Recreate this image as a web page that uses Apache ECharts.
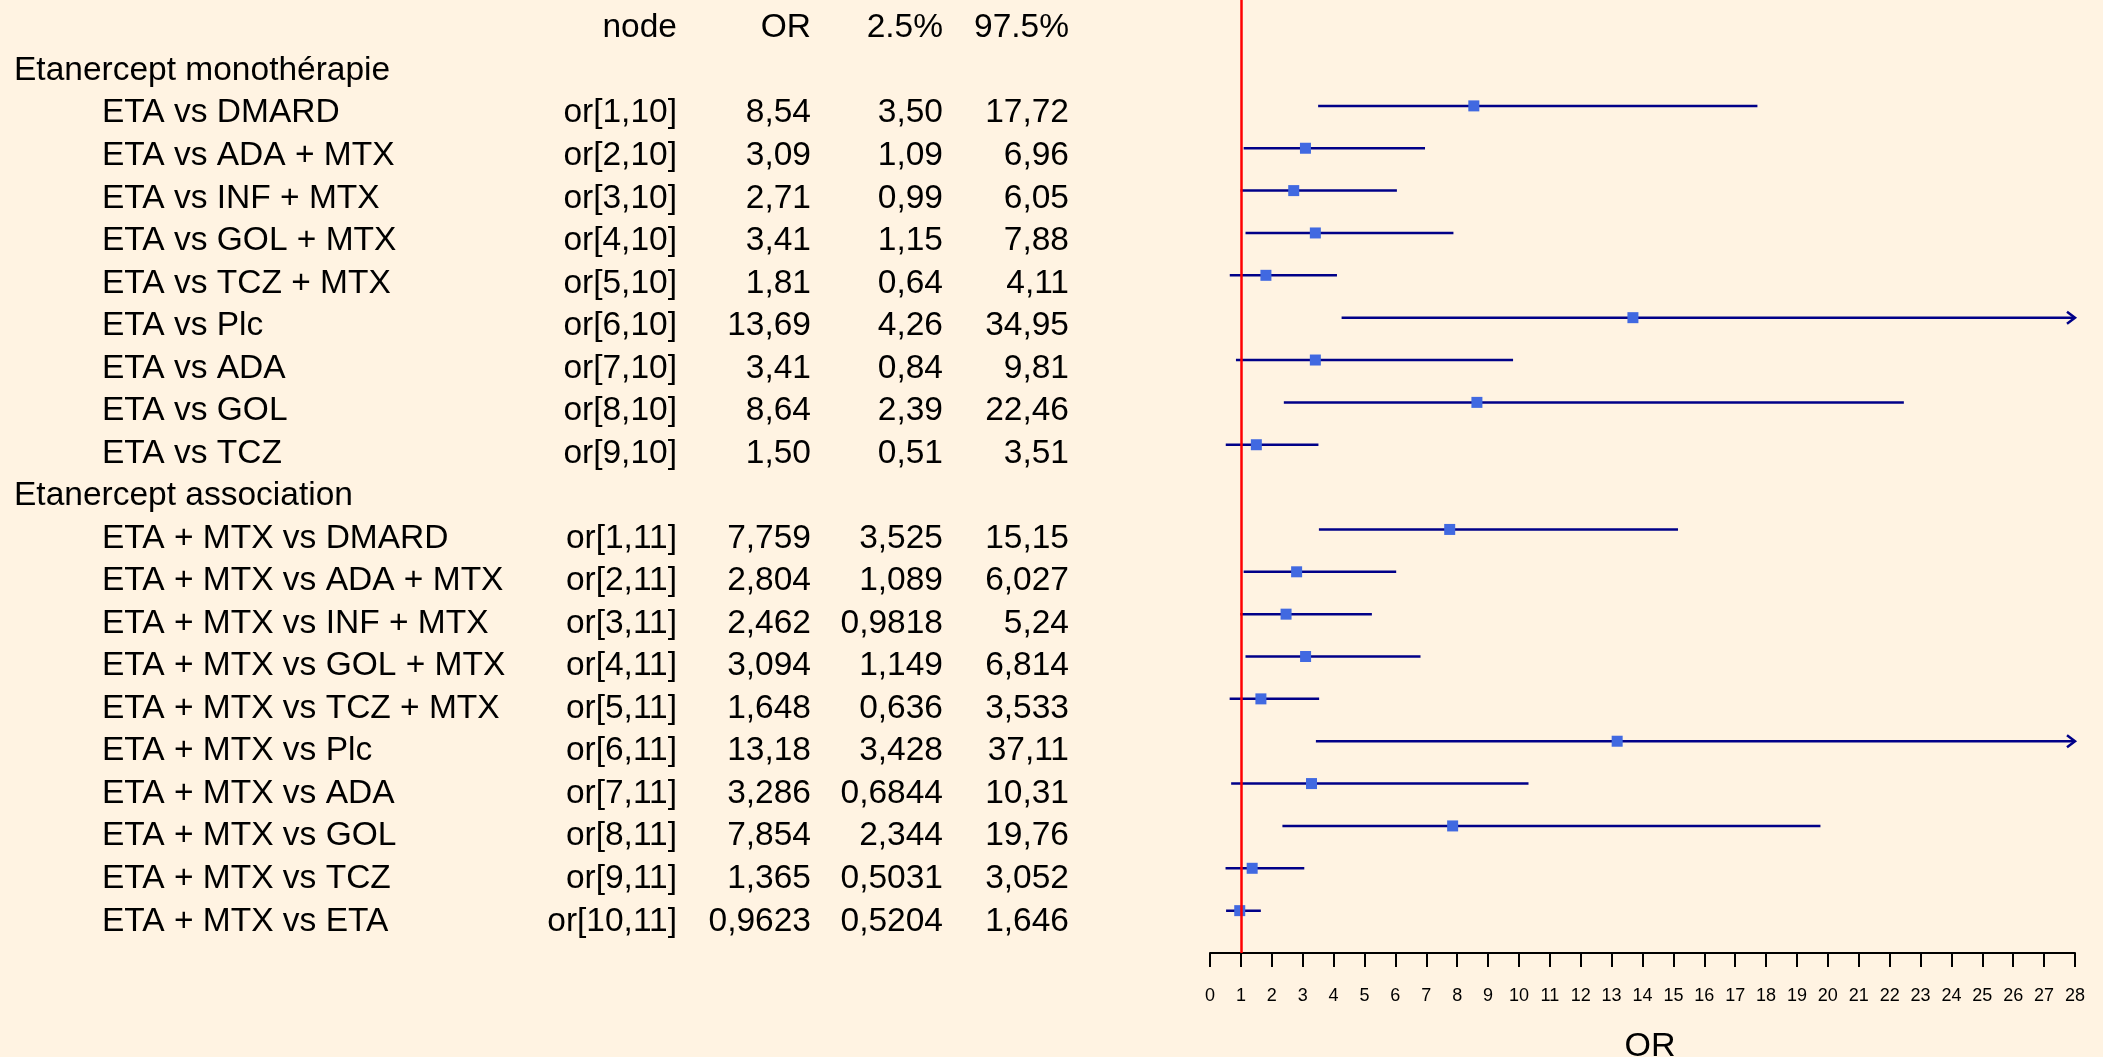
<!DOCTYPE html>
<html>
<head>
<meta charset="utf-8">
<script src="https://cdn.jsdelivr.net/npm/echarts@6/dist/echarts.min.js"></script>
<style>
  html, body { margin: 0; padding: 0; background: #FFF3E2; }
  #chart { width: 2103px; height: 1057px; }
</style>
</head>
<body>
<div id="chart"></div>
<script>
// Column headings of the table
const headers = ['node', 'OR', '2.5%', '97.5%'];
const groupTitles = ['Etanercept monothérapie', 'Etanercept association'];

// Etanercept monotherapy comparisons
const monoLabels = ['ETA vs DMARD', 'ETA vs ADA + MTX', 'ETA vs INF + MTX', 'ETA vs GOL + MTX',
  'ETA vs TCZ + MTX', 'ETA vs Plc', 'ETA vs ADA', 'ETA vs GOL', 'ETA vs TCZ'];
const monoNodes = ['or[1,10]', 'or[2,10]', 'or[3,10]', 'or[4,10]', 'or[5,10]',
  'or[6,10]', 'or[7,10]', 'or[8,10]', 'or[9,10]'];
const monoOR   = [8.54, 3.09, 2.71, 3.41, 1.81, 13.69, 3.41, 8.64, 1.50];
const monoLow  = [3.50, 1.09, 0.99, 1.15, 0.64, 4.26, 0.84, 2.39, 0.51];
const monoHigh = [17.72, 6.96, 6.05, 7.88, 4.11, 34.95, 9.81, 22.46, 3.51];

// Etanercept + MTX comparisons
const assocLabels = ['ETA + MTX vs DMARD', 'ETA + MTX vs ADA + MTX', 'ETA + MTX vs INF + MTX',
  'ETA + MTX vs GOL + MTX', 'ETA + MTX vs TCZ + MTX', 'ETA + MTX vs Plc', 'ETA + MTX vs ADA',
  'ETA + MTX vs GOL', 'ETA + MTX vs TCZ', 'ETA + MTX vs ETA'];
const assocNodes = ['or[1,11]', 'or[2,11]', 'or[3,11]', 'or[4,11]', 'or[5,11]',
  'or[6,11]', 'or[7,11]', 'or[8,11]', 'or[9,11]', 'or[10,11]'];
const assocOR   = [7.759, 2.804, 2.462, 3.094, 1.648, 13.18, 3.286, 7.854, 1.365, 0.9623];
const assocLow  = [3.525, 1.089, 0.9818, 1.149, 0.636, 3.428, 0.6844, 2.344, 0.5031, 0.5204];
const assocHigh = [15.15, 6.027, 5.24, 6.814, 3.533, 37.11, 10.31, 19.76, 3.052, 1.646];

// OR axis range and reference value
const X_MIN = 0, X_MAX = 28, X_STEP = 1, REF_OR = 1;

const fmtFixed2 = v => v.toFixed(2).replace('.', ',');
const fmtSig4 = v => String(parseFloat(v.toPrecision(4))).replace('.', ',');

// Build the table rows: heading, group title, comparisons...
const rows = [];
rows.push({ kind: 'header' });
rows.push({ kind: 'title', label: groupTitles[0] });
monoLabels.forEach((l, i) => rows.push({ kind: 'item', label: l, node: monoNodes[i],
  or: monoOR[i], lo: monoLow[i], hi: monoHigh[i], fmt: fmtFixed2 }));
rows.push({ kind: 'title', label: groupTitles[1] });
assocLabels.forEach((l, i) => rows.push({ kind: 'item', label: l, node: assocNodes[i],
  or: assocOR[i], lo: assocLow[i], hi: assocHigh[i], fmt: fmtSig4 }));
rows.forEach((r, i) => r.row = i);

const ciData = rows.filter(r => r.kind === 'item').map(r => [r.or, r.row, r.lo, r.hi]);
const tableData = rows.map(r => [0, r.row]);

const FONT = 'Liberation Sans, Arial, sans-serif';
const TEXT_SIZE = 33.5;
const COL = { title: 14, item: 102, node: 677, or: 811, lo: 943, hi: 1069 };

function txt(x, y, text, align) {
  return { type: 'text', x: x, y: y,
    style: { text: text, fontSize: TEXT_SIZE, fontFamily: FONT, fill: '#000',
      align: align, verticalAlign: 'middle' } };
}

function renderTable(params, api) {
  const r = rows[params.dataIndex];
  const y = api.coord([0, r.row])[1];
  const kids = [];
  if (r.kind === 'header') {
    kids.push(txt(COL.node, y, headers[0], 'right'));
    kids.push(txt(COL.or, y, headers[1], 'right'));
    kids.push(txt(COL.lo, y, headers[2], 'right'));
    kids.push(txt(COL.hi, y, headers[3], 'right'));
  } else if (r.kind === 'title') {
    kids.push(txt(COL.title, y, r.label, 'left'));
  } else {
    kids.push(txt(COL.item, y, r.label, 'left'));
    kids.push(txt(COL.node, y, r.node, 'right'));
    kids.push(txt(COL.or, y, r.fmt(r.or), 'right'));
    kids.push(txt(COL.lo, y, r.fmt(r.lo), 'right'));
    kids.push(txt(COL.hi, y, r.fmt(r.hi), 'right'));
  }
  return { type: 'group', children: kids };
}

const LINE_COLOR = '#000088';
const BOX_COLOR = '#4169E1';
const BOX = 11;

function renderCI(params, api) {
  const or = api.value(0), row = api.value(1), lo = api.value(2), hi = api.value(3);
  const clipped = hi > X_MAX;
  const pL = api.coord([Math.max(lo, X_MIN), row]);
  const pR = api.coord([Math.min(hi, X_MAX), row]);
  const pM = api.coord([or, row]);
  const kids = [{
    type: 'line',
    shape: { x1: pL[0], y1: pL[1], x2: pR[0], y2: pR[1] },
    style: { stroke: LINE_COLOR, lineWidth: 2.5 }
  }];
  if (clipped) {
    kids.push({
      type: 'polyline',
      shape: { points: [[pR[0] - 8, pR[1] - 6], [pR[0], pR[1]], [pR[0] - 8, pR[1] + 6]] },
      style: { stroke: LINE_COLOR, fill: null, lineWidth: 2.5 }
    });
  }
  kids.push({
    type: 'rect',
    shape: { x: pM[0] - BOX / 2, y: pM[1] - BOX / 2, width: BOX, height: BOX },
    style: { fill: BOX_COLOR }
  });
  return { type: 'group', children: kids };
}

const chart = echarts.init(document.getElementById('chart'), null, { renderer: 'canvas' });
chart.setOption({
  backgroundColor: '#FFF3E2',
  animation: false,
  grid: { left: 1210, right: 28, top: 0, height: 953, containLabel: false, outerBoundsMode: 'none' },
  xAxis: {
    type: 'value', min: X_MIN, max: X_MAX, interval: X_STEP,
    axisLine: { show: true, onZero: false, lineStyle: { color: '#000', width: 2 } },
    axisTick: { show: true, length: 14, lineStyle: { color: '#000', width: 2 } },
    axisLabel: { color: '#000', fontSize: 18, fontFamily: FONT, margin: 34 },
    splitLine: { show: false },
    name: 'OR', nameLocation: 'middle', nameGap: 77,
    nameTextStyle: { color: '#000', fontSize: 34, fontFamily: FONT, padding: [0, 0, 0, 15] }
  },
  yAxis: [
    // rows of the interval plot
    { type: 'value', inverse: true, min: -0.5, max: 22, show: false },
    // rows of the text table
    { type: 'value', inverse: true, min: -0.663, max: 21.745, show: false }
  ],
  series: [
    {
      type: 'custom', name: 'table', renderItem: renderTable, data: tableData,
      yAxisIndex: 1, encode: { x: 0, y: 1 }, silent: true, clip: false
    },
    {
      type: 'custom', name: 'OR', renderItem: renderCI, data: ciData,
      yAxisIndex: 0, encode: { x: [0, 2, 3], y: 1 }, silent: true, clip: false, z: 3,
      markLine: {
        silent: true, symbol: ['none', 'none'], label: { show: false },
        lineStyle: { color: '#FF0000', width: 2.5, type: 'solid' },
        data: [{ xAxis: REF_OR }]
      }
    }
  ]
});
</script>
</body>
</html>
